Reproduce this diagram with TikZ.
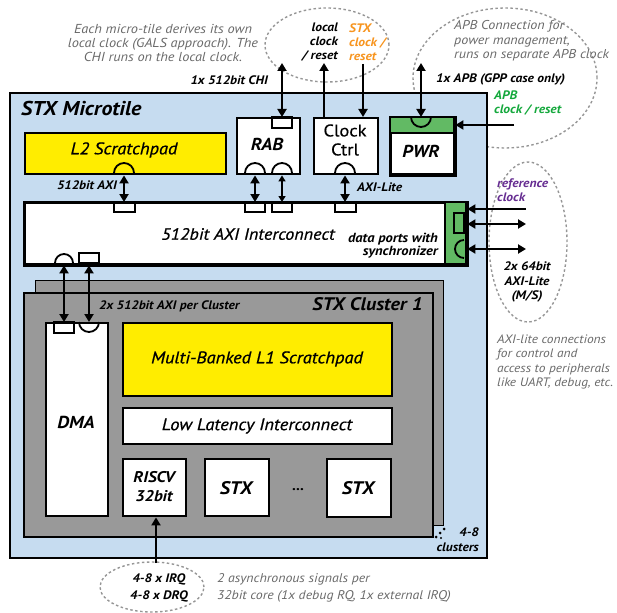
\documentclass[tikz,border=0pt]{standalone}
\usepackage{fontspec}
\setmainfont{PT Sans}[FakeStretch=1.1]
\newfontfamily\medit{PT Sans}[UprightFont={* Italic}, FakeBold=0.7, FakeStretch=1.1]
\newfontfamily\medup{PT Sans}[FakeBold=0.5, FakeStretch=1.1]
\usetikzlibrary{arrows.meta,shapes.geometric}
\definecolor{mtblue}{RGB}{198,220,240}
\definecolor{lyellow}{RGB}{255,237,0}
\definecolor{pgreen}{RGB}{98,186,100}
\definecolor{clgrey}{RGB}{153,153,153}
\definecolor{ctext}{RGB}{105,105,105}
\definecolor{corange}{RGB}{247,148,30}
\definecolor{cpurple}{RGB}{102,45,145}
\definecolor{tgreen}{RGB}{20,168,60}
\definecolor{dashgrey}{RGB}{150,150,150}
\begin{document}
\begin{tikzpicture}[x=1pt,y=-1pt,
  box/.style={draw=black, line width=2.4pt, inner sep=0pt, anchor=north west},
  dashell/.style={ellipse, draw=dashgrey, line width=1.4pt, dash pattern=on 2.5pt off 2.5pt, inner sep=0pt},
  port/.style={draw=black, line width=1.8pt},
  dbl/.style={line width=2.6pt, {Triangle[length=8pt,width=9pt]}-{Triangle[length=8pt,width=9pt]}},
  thindbl/.style={line width=1.5pt, {Triangle[length=6pt,width=7pt]}-{Triangle[length=6pt,width=7pt]}},
  onearr/.style={line width=2pt, -{Triangle[length=8pt,width=9pt]}},
  blab/.style={font=\fontsize{12.3}{14}\selectfont\bfseries\itshape, inner sep=0pt},
  comm/.style={font=\fontsize{13}{14}\selectfont\itshape, text=ctext, inner sep=0pt},
  mlab/.style={font=\fontsize{16.8}{20}\selectfont\medit, inner sep=0pt},
  slab/.style={font=\fontsize{17.3}{20}\selectfont\bfseries\itshape, inner sep=0pt}
]
\useasboundingbox (0,0) rectangle (617,612);

% dashed ellipses
\node[dashell, minimum width=124pt, minimum height=74pt] (eclk) at (327,45) {};
\node[dashell, minimum width=184pt, minimum height=140pt] (eapb) at (505,78) {};
\node[dashell, minimum width=78pt, minimum height=160pt] (eref) at (528,242) {};
\node[dashell, minimum width=104pt, minimum height=50pt] (eirq) at (152,587) {};

% microtile
\node[box, fill=mtblue, line width=2pt, minimum width=477pt, minimum height=465pt] (mt) at (9,92) {};
\node[anchor=west, font=\fontsize{20}{24}\selectfont\bfseries\itshape, inner sep=0pt] (mttitle) at (21,109) {STX Microtile};

% L2
\node[box, fill=lyellow, minimum width=201pt, minimum height=41pt] (l2) at (24,132) {};
\node[mlab] (l2t) at (124,150) {L2 Scratchpad};
\draw[port] (114,173) arc[start angle=180, end angle=0, radius=10pt];

% RAB
\node[box, fill=white, minimum width=63pt, minimum height=56pt] (rab) at (236,117) {};
\node[slab] (rabt) at (267,144) {RAB};
\draw[port] (272,117) rectangle (292,128);
\draw[port] (245,173) arc[start angle=180, end angle=0, radius=10pt];
\draw[port] (272,173) arc[start angle=180, end angle=0, radius=10pt];

% Clock ctrl
\node[box, fill=white, minimum width=64pt, minimum height=56pt] (cc) at (313,117) {};
\node[font=\fontsize{16.8}{19}\selectfont\medup, align=center, inner sep=0pt] (cct) at (345,140) {Clock\\Ctrl};
\draw[port] (335,173) arc[start angle=180, end angle=0, radius=10pt];

% PWR
\node[box, fill=white, minimum width=63pt, minimum height=56pt] (pwr) at (390,117) {};
\fill[pgreen] (390,117) rectangle (453,133);
\draw[line width=1.6pt] (390,133) -- (453,133);
\draw[line width=2.4pt] (pwr.north west) rectangle (pwr.south east);
\draw[port] (411,117) arc[start angle=180, end angle=360, radius=10pt];
\node[slab] (pwrt) at (421,151) {PWR};

% Interconnect
\node[box, fill=white, minimum width=441pt, minimum height=61pt] (ic) at (24,202) {};
\fill[pgreen] (445,202) rectangle (465,263);
\draw[line width=1.8pt] (445,202) -- (445,263);
\draw[line width=2.4pt] (ic.north west) rectangle (ic.south east);
\node[font=\fontsize{16.4}{20}\selectfont\medit, inner sep=0pt] (ict) at (248,234) {512bit AXI Interconnect};
\node[font=\fontsize{13.2}{13}\selectfont\bfseries\itshape, inner sep=0pt, align=right, anchor=east] (dpt) at (438,246) {data ports with\\synchronizer};
\draw[port] (114,202) rectangle (135,212);
\draw[port] (245,202) rectangle (265,212);
\draw[port] (272,202) rectangle (292,212);
\draw[port] (335,202) rectangle (356,212);
\draw[port] (55,263) arc[start angle=180, end angle=0, radius=9pt];
\draw[port] (79,253) rectangle (99,263);
\draw[port] (454,213) rectangle (464,233);
\draw[port] (464,240) arc[start angle=90, end angle=270, radius=9pt];

% clusters
\node[box, fill=clgrey, line width=1.4pt, minimum width=408pt, minimum height=245pt] (clb) at (35,280) {};
\node[box, fill=clgrey, minimum width=409pt, minimum height=244pt] (cl) at (23,292) {};
\node[anchor=east, font=\fontsize{18.2}{22}\selectfont\bfseries\itshape, inner sep=0pt] (clt) at (423,304) {STX Cluster 1};
\node[blab, anchor=west] (axic) at (99,306) {2x 512bit AXI per Cluster};

\node[box, fill=white, minimum width=62pt, minimum height=193pt] (dma) at (45,322) {};
\node[slab] (dmat) at (76,422) {DMA};
\draw[port] (54,322) rectangle (74,333);
\draw[port] (79,322) arc[start angle=180, end angle=360, radius=10pt];

\node[box, fill=lyellow, minimum width=269pt, minimum height=73pt] (l1) at (122,322) {};
\node[mlab] (l1t) at (257,359) {Multi-Banked L1 Scratchpad};
\node[box, fill=white, minimum width=269pt, minimum height=36pt] (lli) at (122,407) {};
\node[mlab] (llit) at (257,426) {Low Latency Interconnect};

\node[box, fill=white, minimum width=63pt, minimum height=57pt] (riscv) at (122,458) {};
\node[font=\fontsize{15.5}{19}\selectfont\bfseries\itshape, align=center, inner sep=0pt] (riscvt) at (154,487) {RISCV\\32bit};
\node[box, fill=white, minimum width=64pt, minimum height=57pt] (stxa) at (204,458) {};
\node[font=\fontsize{18.2}{22}\selectfont\bfseries\itshape, inner sep=0pt] (stxat) at (236,488) {STX};
\node[font=\fontsize{14}{16}\selectfont\bfseries, inner sep=0pt] (dots) at (298,490) {...};
\node[box, fill=white, minimum width=64pt, minimum height=58pt] (stxb) at (326,458) {};
\node[font=\fontsize{18.2}{22}\selectfont\bfseries\itshape, inner sep=0pt] (stxbt) at (358,488) {STX};

\fill (436,537) circle (1.5pt) (440,533) circle (1.5pt) (444,529) circle (1.5pt) (441,538) circle (1.2pt);
\node[font=\fontsize{12.3}{15}\selectfont\bfseries\itshape, inner sep=0pt, align=right, anchor=east] (clus) at (479,540) {4-8\\clusters};

% arrows
\coordinate (chitop) at (282,63);
\draw[dbl] (chitop) -- (rab.north -| chitop);
\node[blab, anchor=east] (chil) at (268,80) {1x 512bit CHI};

\coordinate (lclk) at (324,63);
\draw[onearr, line width=2.4pt] (cc.north -| lclk) -- (lclk);
\coordinate (sclk) at (363,64);
\draw[onearr, line width=2.4pt] (sclk) -- (cc.north -| sclk);

\coordinate (apbtop) at (421,63);
\draw[dbl] (apbtop) -- (pwr.north -| apbtop);
\node[blab, anchor=west] (apbl) at (436,79) {1x APB (GPP case only)};
\coordinate (apbclk) at (514,125);
\draw[onearr] (apbclk) -- (pwr.east |- apbclk);

\coordinate (l2x) at (124,0);
\draw[dbl] (l2.south -| l2x) -- (ic.north -| l2x);
\node[blab, anchor=east] (l2axi) at (117,185) {512bit AXI};
\coordinate (rabl) at (255,0);
\coordinate (rabr) at (282,0);
\draw[dbl] (rab.south -| rabl) -- (ic.north -| rabl);
\draw[thindbl] (rab.south -| rabr) -- (ic.north -| rabr);
\coordinate (ccx) at (345,0);
\draw[dbl] (cc.south -| ccx) -- (ic.north -| ccx);
\node[blab, anchor=west] (axil) at (357,187) {AXI-Lite};

\coordinate (dmal) at (64,0);
\coordinate (dmar) at (89,0);
\draw[dbl] (ic.south -| dmal) -- (dma.north -| dmal);
\draw[dbl] (ic.south -| dmar) -- (dma.north -| dmar);

\coordinate (refc) at (526,209);
\draw[onearr] (refc) -- (ic.east |- refc);
\coordinate (axa) at (526,224);
\coordinate (axb) at (526,249);
\draw[dbl, line width=2pt] (ic.east |- axa) -- (axa);
\draw[dbl, line width=2pt] (ic.east |- axb) -- (axb);

\coordinate (irqx) at (156,563);
\draw[onearr] (irqx) -- (riscv.south -| irqx);

% texts outside
\node[comm, align=center] (gals) at (163,43) {Each micro-tile derives its own\\local clock (GALS approach). The\\CHI runs on the local clock.};
\node[blab, align=right, anchor=east, text=black] (lct) at (338,42) {local\\clock\\/ reset};
\node[blab, align=left, anchor=west, text=corange] (sct) at (349,42) {STX\\clock /\\reset};
\node[comm, font=\fontsize{12.8}{14.5}\selectfont\itshape, align=left, anchor=west] (apbc) at (454,41) {APB Connection for\\power management,\\runs on separate APB clock};
\node[blab, align=left, anchor=west, text=tgreen] (apbct) at (494,103) {APB\\clock / reset};
\node[blab, align=left, anchor=west, text=cpurple] (reft) at (497,190) {reference\\clock};
\node[font=\fontsize{12.3}{14.5}\selectfont\bfseries\itshape, inner sep=0pt, align=center] (axlt) at (527,282) {2x 64bit\\AXI-Lite\\(M/S)};
\node[font=\fontsize{12.2}{14.3}\selectfont\itshape, text=ctext, inner sep=0pt, align=left, anchor=west] (axc) at (497,362) {AXI-lite connections\\for control and\\access to peripherals\\like UART, debug, etc.};
\node[font=\fontsize{12.3}{17}\selectfont\bfseries\itshape, inner sep=0pt, align=center] (irqt) at (159,588) {4-8 x IRQ\\4-8 x DRQ};
\node[font=\fontsize{12.6}{17}\selectfont\itshape, text=ctext, inner sep=0pt, align=left, anchor=west] (irqc) at (217,588) {2 asynchronous signals per\\32bit core (1x debug RQ, 1x external IRQ)};
\end{tikzpicture}
\end{document}
